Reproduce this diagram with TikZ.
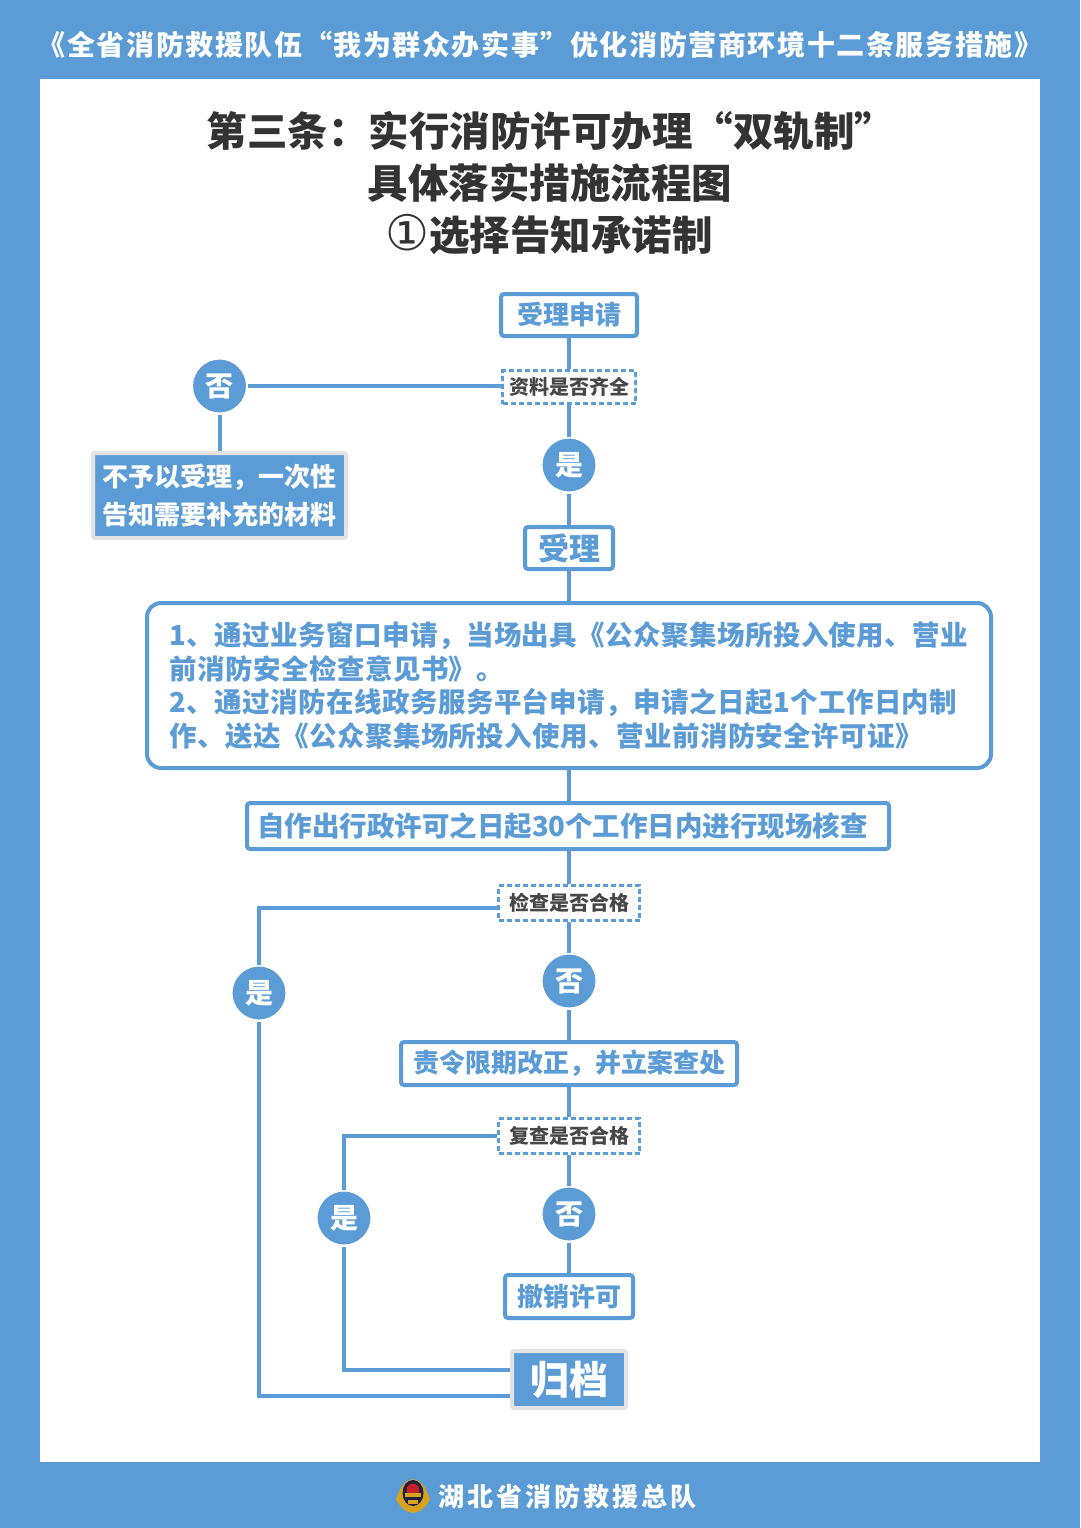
\documentclass[tikz,border=0pt]{standalone}
\usepackage{fontspec}
\setmainfont{Noto Sans CJK SC}
\newfontfamily\footfont[LetterSpace=12]{Noto Sans CJK SC}
\newfontfamily\bannerfont[LetterSpace=5.7]{Noto Sans CJK SC}
\newfontfamily\notesfont[LetterSpace=1.5]{Noto Sans CJK SC}
\newfontfamily\circfont{DejaVu Sans}
\definecolor{fireblue}{HTML}{5B9BD6}
\definecolor{greyrim}{HTML}{E3E3E3}
\definecolor{inktext}{HTML}{333333}
\definecolor{badgegold}{HTML}{D9A21E}
\definecolor{badgered}{HTML}{C8202A}
\definecolor{badgedark}{HTML}{1E2340}
\tikzset{
  link/.style={draw=fireblue,line width=4pt},
  stepbox/.style={draw=fireblue,fill=white,line width=4pt,rounded corners=3pt,text=fireblue,inner sep=0pt,font=\fontsize{26}{30}\selectfont\bfseries},
  askbox/.style={draw=fireblue,fill=white,line width=3pt,dash pattern=on 5pt off 3pt,text=inktext!90,inner sep=0pt,font=\fontsize{20}{24}\selectfont\bfseries},
  endbox/.style={draw=greyrim,fill=fireblue,line width=4pt,rounded corners=2pt,text=white,inner sep=0pt,font=\fontsize{26}{38}\selectfont\bfseries},
  answer/.style={circle,fill=fireblue,draw=white,line width=2pt,minimum size=55pt,inner sep=0pt,text=white,font=\fontsize{28}{30}\selectfont\bfseries},
  titleline/.style={text=inktext,inner sep=0pt,font=\fontsize{40.5}{44}\selectfont\bfseries}
}
\begin{document}
\begin{tikzpicture}[x=1pt,y=-1pt]
  \fill[fireblue] (0,0) rectangle (1080,1528);
  \useasboundingbox (0,0) rectangle (1080,1528);
  \fill[white] (40,79) rectangle (1040,1462);

  \node[text=white,inner sep=0pt,font=\fontsize{28}{32}\bannerfont\bfseries] (banner) at (540,45) {《全省消防救援队伍“我为群众办实事”优化消防营商环境十二条服务措施》};
  \node[titleline] (title1) at (551,131) {第三条：实行消防许可办理“双轨制”};
  \node[titleline] (title2) at (550,183) {具体落实措施流程图};
  \node[titleline] (title3) at (549,235) {{\fontsize{49}{44}\circfont\mdseries ①}选择告知承诺制};

  % first check
  \node[stepbox,minimum width=136pt,minimum height=42pt] (apply) at (569,315) {受理申请};
  \node[askbox,minimum width=133pt,minimum height=33pt] (check1) at (569,387) {资料是否齐全};
  \node[answer] (no1) at (219.5,386) {否};
  \node[endbox,minimum width=253pt,minimum height=85pt,align=left] (reject) at (219.5,495.5) {不予以受理，一次性\\告知需要补充的材料};
  \node[answer] (yes1) at (569,465) {是};
  \node[stepbox,minimum width=88pt,minimum height=42pt,font=\fontsize{31}{34}\selectfont\bfseries] (accept) at (569,548) {受理};

  \node[stepbox,minimum width=844pt,minimum height=165pt,rounded corners=14pt,align=left,font=\fontsize{27.5}{33.4}\notesfont\bfseries] (notes) at (569,685.5) {1、通过业务窗口申请，当场出具《公众聚集场所投入使用、营业\\前消防安全检查意见书》。\\2、通过消防在线政务服务平台申请，申请之日起1个工作日内制\\作、送达《公众聚集场所投入使用、营业前消防安全许可证》};
  \node[stepbox,minimum width=642pt,minimum height=46pt,text width=622pt,align=left,font=\fontsize{27.5}{32}\selectfont\bfseries] (verify) at (568,826) {自作出行政许可之日起30个工作日内进行现场核查};

  % second check
  \node[askbox,minimum width=141pt,minimum height=35pt] (check2) at (569,903) {检查是否合格};
  \node[answer] (no2) at (569,981) {否};
  \node[answer] (yes2) at (259,993) {是};
  \node[stepbox,minimum width=336pt,minimum height=43pt] (order) at (569,1063.5) {责令限期改正，并立案查处};

  % third check
  \node[askbox,minimum width=141pt,minimum height=35pt] (check3) at (569,1136) {复查是否合格};
  \node[answer] (no3) at (569,1214) {否};
  \node[answer] (yes3) at (344,1218) {是};
  \node[stepbox,minimum width=128pt,minimum height=43pt] (revoke) at (569,1296.5) {撤销许可};
  \node[endbox,minimum width=114pt,minimum height=57pt,font=\fontsize{39}{42}\selectfont\bfseries] (archive) at (569,1379.5) {归档};

  \draw[link] (apply) -- (check1);
  \draw[link] (check1) -- (yes1);
  \draw[link] (yes1) -- (accept);
  \draw[link] (accept) -- (notes);
  \draw[link] (notes.south) -- (notes.south |- verify.north);
  \draw[link] (no1.east) -- (no1.east -| check1.west);
  \draw[link] (no1) -- (reject);
  \draw[link] (verify.south -| check2) -- (check2);
  \draw[link] (check2) -- (no2);
  \draw[link] (no2) -- (order);
  \draw[link] (order) -- (check3);
  \draw[link] (check3) -- (no3);
  \draw[link] (no3) -- (revoke);
  \draw[link] ([yshift=-5pt]check2.west) -| (yes2.north);
  \draw[link] (yes2.south) |- ([yshift=-16.5pt]archive.west);
  \draw[link] (check3.west) -| (yes3.north);
  \draw[link] (yes3.south) |- ([yshift=9.5pt]archive.west);

  % badge in the footer
  \fill[badgegold] (413,1479) .. controls (424,1481) and (426,1490) .. (430,1499) .. controls (426,1508) and (418,1513) .. (413,1513) .. controls (408,1513) and (400,1508) .. (396,1499) .. controls (400,1490) and (402,1481) .. (413,1479) -- cycle;
  \fill[badgedark] (413,1493) ellipse (10.5 and 13);
  \fill[badgered] (413,1490) circle (6.5);
  \fill[badgegold] (405,1493) rectangle (421,1497);
  \fill[badgegold] (408,1500) rectangle (418,1504);
  \node[text=white,inner sep=0pt,font=\fontsize{26}{30}\footfont\bfseries] (footer) at (567.5,1497) {湖北省消防救援总队};
\end{tikzpicture}
\end{document}
